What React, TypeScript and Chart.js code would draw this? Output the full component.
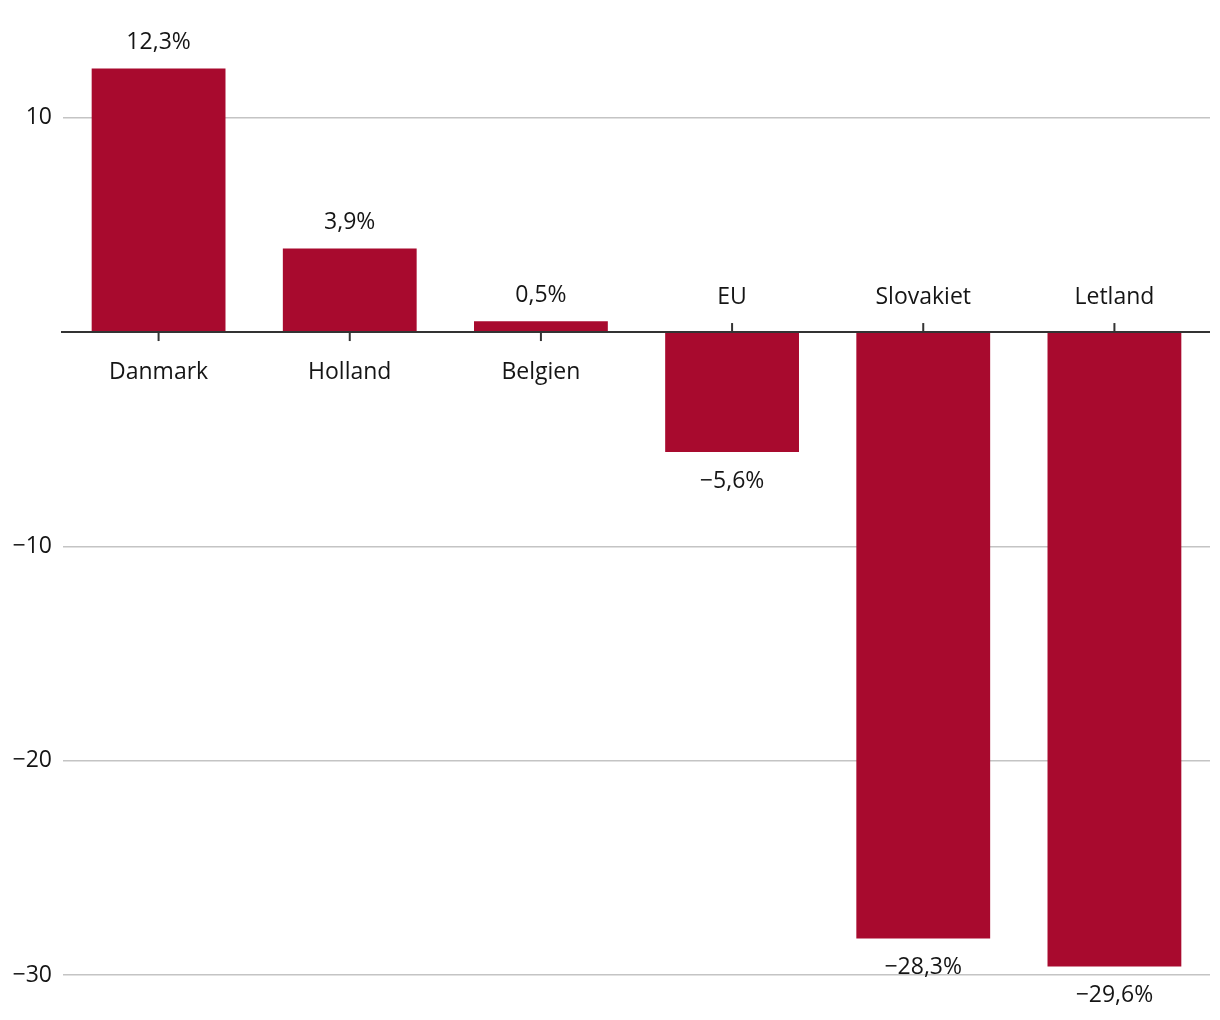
import React, { useEffect, useRef } from "react";
import { Chart, registerables } from "chart.js";

Chart.register(...registerables);

const CATEGORIES = ["Danmark", "Holland", "Belgien", "EU", "Slovakiet", "Letland"];
const VALUES = [12.3, 3.9, 0.5, -5.6, -28.3, -29.6];
const Y_TICKS = [-30, -20, -10, 0, 10];

const BAR_COLOR = "#A80A2E";
const FONT = "'Open Sans', 'Noto Sans', sans-serif";
const TEXT_COLOR = "#151515";
const FONT_SIZE = 23;

const fmt = (v: number) => {
  const s = Math.abs(v).toFixed(1).replace(".", ",");
  return (v < 0 ? "\u2212" : "") + s + "%";
};

const labelPlugin = {
  id: "customLabels",
  afterDatasetsDraw(chart: any) {
    const ctx = chart.ctx;
    const yScale = chart.scales.y;
    const xScale = chart.scales.x;
    const zero = yScale.getPixelForValue(0);
    const area = chart.chartArea;
    ctx.save();
    ctx.strokeStyle = "#333333";
    ctx.lineWidth = 2;
    ctx.beginPath();
    ctx.moveTo(area.left - 2, zero);
    ctx.lineTo(area.right, zero);
    ctx.stroke();

    const meta = chart.getDatasetMeta(0);
    ctx.font = `${FONT_SIZE}px ${FONT}`;
    ctx.fillStyle = TEXT_COLOR;
    ctx.textAlign = "center";
    ctx.textBaseline = "middle";
    meta.data.forEach((bar: any, i: number) => {
      const v = VALUES[i];
      const x = xScale.getPixelForValue(i);
      const yEnd = yScale.getPixelForValue(v);
      ctx.strokeStyle = "#333333";
      ctx.lineWidth = 2;
      ctx.beginPath();
      if (v >= 0) {
        ctx.moveTo(x, zero);
        ctx.lineTo(x, zero + 9);
      } else {
        ctx.moveTo(x, zero - 9);
        ctx.lineTo(x, zero);
      }
      ctx.stroke();
      if (v >= 0) {
        ctx.fillText(CATEGORIES[i], x, zero + 40);
        ctx.fillText(fmt(v), x, yEnd - 26);
      } else {
        ctx.fillText(CATEGORIES[i], x, zero - 35);
        ctx.fillText(fmt(v), x, yEnd + 29);
      }
    });
    ctx.restore();
  },
};

export default function App() {
  const ref = useRef<HTMLCanvasElement>(null);
  useEffect(() => {
    if (!ref.current) return;
    const chart = new Chart(ref.current, {
      type: "bar",
      data: {
        labels: CATEGORIES,
        datasets: [
          {
            data: VALUES,
            backgroundColor: BAR_COLOR,
            borderWidth: 0,
            barPercentage: 0.7,
            categoryPercentage: 1,
          },
        ],
      },
      options: {
        animation: false,
        responsive: true,
        maintainAspectRatio: false,
        layout: { padding: { top: 32, bottom: 45, right: 10, left: 0 } },
        plugins: {
          legend: { display: false },
          tooltip: { enabled: false },
        },
        scales: {
          x: {
            display: false,
          },
          y: {
            min: -30,
            max: 14,
            afterBuildTicks: (scale: any) => {
              scale.ticks = Y_TICKS.map((v) => ({ value: v }));
            },
            afterFit: (scale: any) => {
              scale.width = 63;
            },
            border: { display: false },
            grid: {
              drawTicks: false,
              color: (c: any) => (c.tick && c.tick.value === 0 ? "rgba(0,0,0,0)" : "#c4c4c4"),
              lineWidth: 1.5,
            },
            ticks: {
              padding: 11,
              color: TEXT_COLOR,
              font: { family: FONT, size: FONT_SIZE },
              callback: (v: any) => {
                const n = Number(v);
                if (n === 0) return "";
                return (n < 0 ? "\u2212" : "") + Math.abs(n);
              },
            },
          },
        },
      },
      plugins: [labelPlugin],
    });
    return () => chart.destroy();
  }, []);
  return (
    <div style={{ position: "absolute", left: 0, top: 0, width: 1220, height: 1020 }}>
      <canvas ref={ref} />
    </div>
  );
}
